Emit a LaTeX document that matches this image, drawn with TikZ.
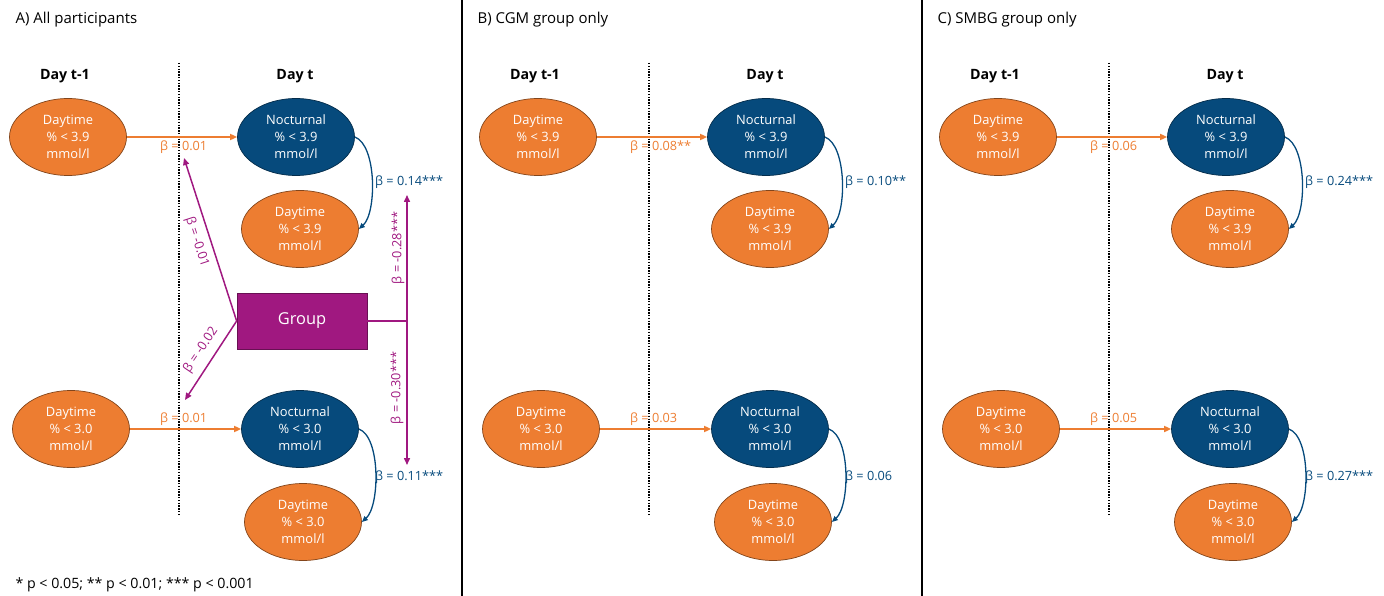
\documentclass[tikz,border=0pt]{standalone}
\usepackage{fontspec}
\setmainfont{Open Sans}
\usetikzlibrary{shapes.geometric,arrows.meta}

\definecolor{daycol}{RGB}{237,125,49}
\definecolor{nightcol}{RGB}{6,74,124}
\definecolor{grpcol}{RGB}{160,24,128}

\tikzset{
  varnode/.style={ellipse, minimum width=117pt, minimum height=77pt, inner sep=0pt,
    align=center, text=white, font=\fontsize{12.9}{17}\selectfont},
  daybox/.style={varnode, fill=daycol, draw=daycol!55!black, line width=0.7pt},
  nightbox/.style={varnode, fill=nightcol, draw=nightcol!60!black, line width=0.7pt},
  grpbox/.style={rectangle, minimum width=130pt, minimum height=56pt, fill=grpcol,
    draw=grpcol!65!black, line width=0.7pt, text=white, font=\fontsize{16.4}{19}\selectfont},
  dayhead/.style={font=\bfseries\fontsize{14.2}{17}\selectfont},
  paneltitle/.style={anchor=west, font=\fontsize{15}{18}\selectfont},
  notetext/.style={anchor=west, font=\fontsize{14.2}{17}\selectfont},
  lagarrow/.style={draw=daycol, line width=1.6pt, -{Triangle[length=7pt,width=6pt]}},
  samearrow/.style={draw=nightcol, line width=1.3pt, -{Triangle[length=6pt,width=5pt]}},
  grpline/.style={draw=grpcol, line width=1.5pt},
  grparrow/.style={grpline, -{Triangle[length=7pt,width=6pt]}},
  lagtext/.style={anchor=west, text=daycol, font=\fontsize{12.7}{15}\selectfont, inner sep=0pt},
  sametext/.style={anchor=west, text=nightcol, font=\fontsize{12.7}{15}\selectfont, inner sep=0pt},
  grptext/.style={text=grpcol, font=\fontsize{12.7}{15}\selectfont, inner sep=0pt},
  daysplit/.style={draw=black, line width=1.6pt, dash pattern=on 1.4pt off 1.4pt},
  panelsplit/.style={draw=black, line width=2pt}
}

% One panel: #1 name prefix, #2 horizontal shift, #3/#5 lagged effects, #4/#6 same-day effects
\newcommand\drawpanel[6]{%
\begin{scope}[xshift=#2pt, name prefix=#1-]
  \node[dayhead] (hprev) at (65,76) {Day t-1};
  \node[dayhead] (hcur) at (295,76) {Day t};
  \coordinate (cuttop) at (179,63);
  \coordinate (cutbot) at (179,514);
  \draw[daysplit] (cuttop) -- (cutbot);
  \node[daybox] (d39) at (68,137) {Daytime\\\% < 3.9\\mmol/l};
  \node[nightbox] (n39) at (296,137) {Nocturnal\\\% < 3.9\\mmol/l};
  \node[daybox] (t39) at (300,229) {Daytime\\\% < 3.9\\mmol/l};
  \node[daybox] (d30) at (71,429) {Daytime\\\% < 3.0\\mmol/l};
  \node[nightbox] (n30) at (300,429) {Nocturnal\\\% < 3.0\\mmol/l};
  \node[daybox] (t30) at (303,522) {Daytime\\\% < 3.0\\mmol/l};
  \draw[lagarrow] (d39) -- (n39);
  \draw[lagarrow] (d30) -- (n30);
  \draw[samearrow] (n39.east) .. controls +(22,8) and +(18,-16) .. (t39.east);
  \draw[samearrow] (n30.east) .. controls +(22,8) and +(18,-16) .. (t30.east);
  \node[lagtext] (l39) at (160,147) {#3};
  \node[sametext] (s39) at (375,182) {#4};
  \node[lagtext] (l30) at (160,419) {#5};
  \node[sametext] (s30) at (375,477) {#6};
\end{scope}}

\begin{document}
\begin{tikzpicture}[x=1pt, y=-1pt]
  \useasboundingbox (0,0) rectangle (1384,596);

  % panel separators
  \coordinate (sepAt) at (462,0);
  \coordinate (sepAb) at (462,596);
  \coordinate (sepBt) at (922,0);
  \coordinate (sepBb) at (922,596);
  \draw[panelsplit] (sepAt) -- (sepAb);
  \draw[panelsplit] (sepBt) -- (sepBb);

  % panel titles
  \node[paneltitle] (titA) at (12,20) {A) All participants};
  \node[paneltitle] (titB) at (474,20) {B) CGM group only};
  \node[paneltitle] (titC) at (934,20) {C) SMBG group only};

  \drawpanel{A}{0}{β = 0.01}{β = 0.14***}{β = 0.01}{β = 0.11***}
  \drawpanel{B}{470}{β = 0.08**}{β = 0.10**}{β = 0.03}{β = 0.06}
  \drawpanel{C}{930}{β = 0.06}{β = 0.24***}{β = 0.05}{β = 0.27***}

  % group effects in panel A
  \node[grpbox] (grp) at (302,321) {Group};
  \coordinate (gj) at (407,321);
  \coordinate (gup) at (407,195);
  \coordinate (gdn) at (407,465);
  \coordinate (glag39) at (184,158);
  \coordinate (glag30) at (185,400);
  \draw[grpline] (grp.east) -- (gj);
  \draw[grparrow] (gj) -- (gup);
  \draw[grparrow] (gj) -- (gdn);
  \draw[grparrow] (grp.west) -- (glag39);
  \draw[grparrow] (grp.west) -- (glag30);
  \node[grptext, rotate=90] (gl1) at (398,248) {β = -0.28***};
  \node[grptext, rotate=90] (gl2) at (397,388) {β = -0.30***};
  \node[grptext, rotate=-72] (gl3) at (197,242) {β = -0.01};
  \node[grptext, rotate=56] (gl4) at (201,350) {β = -0.02};

  % significance note
  \node[notetext] (note) at (12,585) {* p < 0.05; ** p < 0.01; *** p < 0.001};
\end{tikzpicture}
\end{document}
